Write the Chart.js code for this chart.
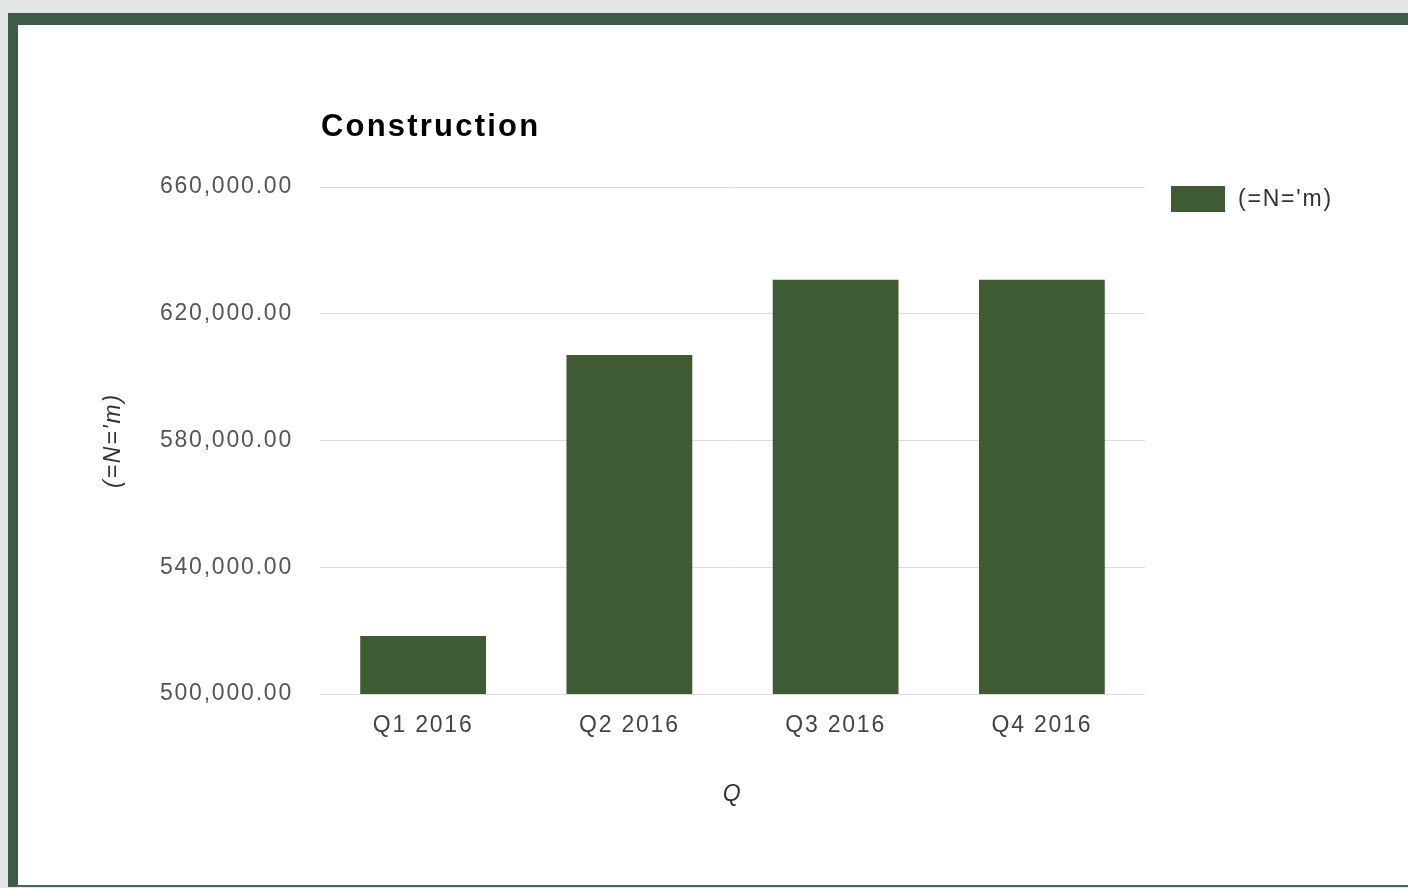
<!DOCTYPE html>
<html>
<head>
<meta charset="utf-8">
<script src="https://cdn.jsdelivr.net/npm/chart.js@4"></script>
<style>
  body { margin: 0; background: #e4e5e7; width: 1408px; height: 888px; overflow: hidden; position: relative; }
  #frame { position: absolute; left: 8px; top: 13px; width: 1500px; height: 860px;
           background: #fff; border-left: 10px solid #3d5c48; border-top: 12px solid #3d5c48;
           border-bottom: 2px solid #4a6656; }
  #wrap { position: absolute; left: 0; top: 0; width: 1408px; height: 888px; }
</style>
</head>
<body>
<div id="frame"></div>
<div id="wrap"><canvas id="myChart" width="1408" height="888"></canvas></div>
<script>
// datos
const categories = ['Q1 2016', 'Q2 2016', 'Q3 2016', 'Q4 2016'];
const values = [518300, 607000, 630700, 630700];
const seriesName = "(=N='m)";
const chartTitle = 'Construction';
const xTitle = 'Q';
const yTicks = [500000, 540000, 580000, 620000, 660000];

const barColor = '#3e5b33';
const spacing = '1.8px';
const fontFamily = '"Liberation Sans", Arial, sans-serif';

// espaciado de letras como en la imagen original
const spacingPlugin = {
    id: 'spacing',
    beforeUpdate(chart) { chart.ctx.letterSpacing = spacing; },
    beforeLayout(chart) { chart.ctx.letterSpacing = spacing; },
    beforeDraw(chart) { chart.ctx.letterSpacing = spacing; }
};

// titulo y leyenda dibujados a mano
const extrasPlugin = {
    id: 'extras',
    afterDraw(chart) {
        const ctx = chart.ctx;
        const area = chart.chartArea;
        ctx.save();
        ctx.letterSpacing = '2.2px';
        ctx.font = 'bold 31px ' + fontFamily;
        ctx.fillStyle = '#000';
        ctx.textBaseline = 'middle';
        ctx.textAlign = 'left';
        ctx.fillText(chartTitle, area.left + 1, 127);

        // leyenda
        const ds = chart.data.datasets[0];
        const lx = area.right + 26;
        ctx.fillStyle = ds.backgroundColor;
        ctx.fillRect(lx, 186, 54, 26);
        ctx.letterSpacing = spacing;
        ctx.font = '23px ' + fontFamily;
        ctx.fillStyle = '#333';
        ctx.fillText(ds.label, lx + 67, 200);
        ctx.restore();
    }
};

const ctx = document.getElementById('myChart').getContext('2d');
const myChart = new Chart(ctx, {
    type: 'bar',
    data: {
        labels: categories,
        datasets: [{
            label: seriesName,
            data: values,
            backgroundColor: barColor,
            categoryPercentage: 1,
            barPercentage: 0.61
        }]
    },
    options: {
        responsive: false,
        animation: false,
        layout: { padding: { left: 0, top: 187, right: 263, bottom: 0 } },
        plugins: {
            legend: { display: false },
            title: { display: false },
            tooltip: { enabled: false }
        },
        scales: {
            x: {
                grid: { display: false },
                border: { display: false },
                ticks: {
                    color: '#444',
                    padding: 10,
                    font: { family: fontFamily, size: 23 }
                },
                title: {
                    display: true,
                    text: xTitle,
                    color: '#333',
                    padding: { top: 0, bottom: 80 },
                    font: { family: fontFamily, size: 23, style: 'italic' }
                },
                afterFit(scale) { scale.height = 888 - 694; }
            },
            y: {
                min: 500000,
                max: 660000,
                afterBuildTicks(scale) { scale.ticks = yTicks.map(v => ({ value: v })); },
                grid: { color: '#dcdcdc', drawTicks: false, lineWidth: 1 },
                border: { display: false },
                ticks: {
                    color: '#555',
                    padding: 27,
                    font: { family: fontFamily, size: 23 },
                    callback: v => v.toLocaleString('en-US', { minimumFractionDigits: 2, maximumFractionDigits: 2 })
                },
                title: {
                    display: true,
                    text: seriesName,
                    color: '#333',
                    padding: { top: 100, bottom: 0 },
                    font: { family: fontFamily, size: 23, style: 'italic' }
                },
                afterFit(scale) { scale.width = 320; }
            }
        }
    },
    plugins: [spacingPlugin, extrasPlugin]
});
</script>
</body>
</html>
